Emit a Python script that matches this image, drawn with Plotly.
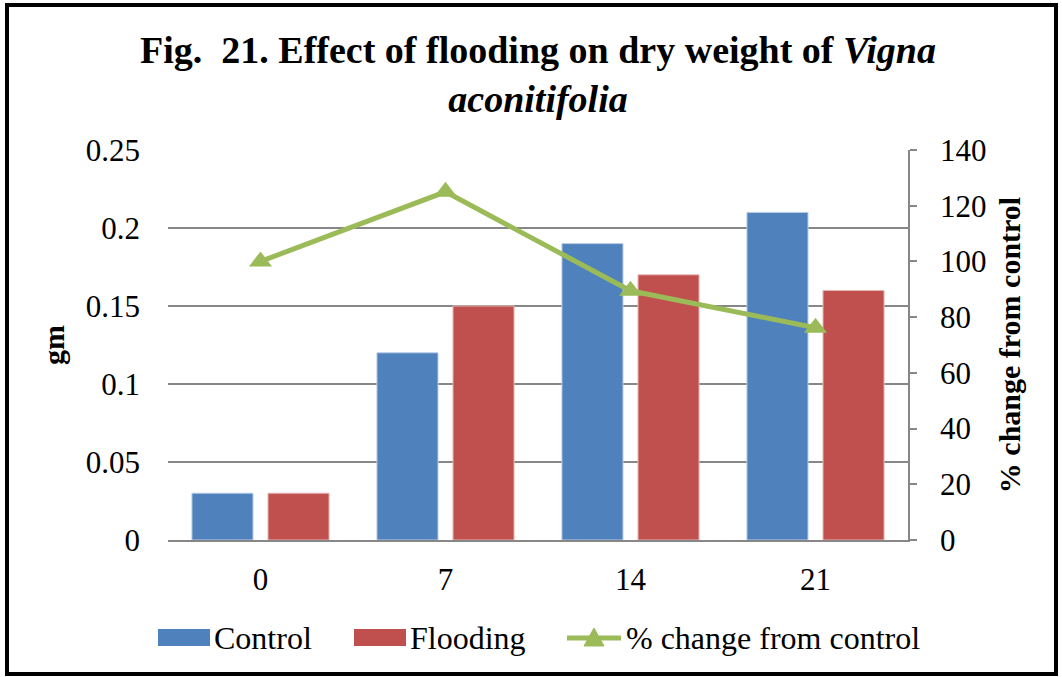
import plotly.graph_objects as go

# Days of flooding and measured dry weight (gm)
days = ["0", "7", "14", "21"]
control = [0.03, 0.12, 0.19, 0.21]
flooding = [0.03, 0.15, 0.17, 0.16]
pct_change = [100, 125, 89.47, 76.19]

left_ticks = [0, 0.05, 0.1, 0.15, 0.2, 0.25]
left_labels = ["0", "0.05", "0.1", "0.15", "0.2", "0.25"]
right_ticks = [0, 20, 40, 60, 80, 100, 120, 140]

BLUE = "#4F81BD"
RED = "#C0504D"
GREEN = "#9BBB59"
GRID = "#878787"
SERIF = "Liberation Serif"

W, H = 1062, 677
ML, MR, MT, MB = 168, 154, 150, 137
PW, PH = W - ML - MR, H - MT - MB


def px(x):
    return (x - ML) / PW


def py(y):
    return (H - MB - y) / PH


fig = go.Figure()
fig.add_trace(go.Bar(x=days, y=control, name="Control", marker_color=BLUE,
                     marker_line=dict(color="#B9CDE5", width=1), showlegend=False))
fig.add_trace(go.Bar(x=days, y=flooding, name="Flooding", marker_color=RED,
                     marker_line=dict(color="#E6B9B8", width=1), showlegend=False))
fig.add_trace(go.Scatter(x=days, y=pct_change, yaxis="y2", name="% change from control",
                         mode="lines+markers",
                         line=dict(color=GREEN, width=5),
                         marker=dict(symbol="triangle-up", size=20, color=GREEN),
                         showlegend=False))

shapes = [
    # outer frame
    dict(type="rect", xref="paper", yref="paper",
         x0=px(7), x1=px(1056), y0=py(674), y1=py(5),
         line=dict(color="black", width=4), fillcolor="rgba(0,0,0,0)"),
    # legend swatches
    dict(type="rect", xref="paper", yref="paper",
         x0=px(158), x1=px(210), y0=py(646), y1=py(629),
         fillcolor=BLUE, line=dict(width=0)),
    dict(type="rect", xref="paper", yref="paper",
         x0=px(354), x1=px(406), y0=py(646), y1=py(629),
         fillcolor=RED, line=dict(width=0)),
    dict(type="line", xref="paper", yref="paper",
         x0=px(567), x1=px(621), y0=py(638), y1=py(638),
         line=dict(color=GREEN, width=5)),
    dict(type="path", xref="paper", yref="paper",
         path=f"M {px(584)},{py(646)} L {px(604)},{py(646)} L {px(594)},{py(628)} Z",
         fillcolor=GREEN, line=dict(color=GREEN, width=1)),
]

legend_font = dict(family=SERIF, size=32, color="black")
annotations = [
    dict(text="Control", x=px(212), y=py(638), xref="paper", yref="paper",
         xanchor="left", yanchor="middle", showarrow=False, font=legend_font),
    dict(text="Flooding", x=px(408), y=py(638), xref="paper", yref="paper",
         xanchor="left", yanchor="middle", showarrow=False, font=legend_font),
    dict(text="% change from control", x=px(624), y=py(638), xref="paper", yref="paper",
         xanchor="left", yanchor="middle", showarrow=False, font=legend_font),
]

fig.update_layout(
    width=W, height=H,
    margin=dict(l=ML, r=MR, t=MT, b=MB),
    paper_bgcolor="white", plot_bgcolor="white",
    barmode="group", bargap=0.178, bargroupgap=0.197,
    showlegend=False,
    title=dict(
        text="<b>Fig.  21. Effect of flooding on dry weight of <i>Vigna</i><br><i>aconitifolia</i></b>",
        x=0.5, xref="paper", xanchor="center",
        y=1 - 63 / H, yanchor="middle",
        font=dict(family=SERIF, size=38, color="black"),
    ),
    xaxis=dict(
        type="category", showgrid=False, ticks="",
        showline=True, linecolor=GRID, linewidth=1.5,
        tickfont=dict(family=SERIF, size=31, color="black"),
        ticklabelstandoff=11,
    ),
    yaxis=dict(
        range=[0, 0.25], tickvals=left_ticks, ticktext=left_labels,
        showgrid=True, gridcolor=GRID, gridwidth=1.5, zeroline=False,
        showline=False, ticks="",
        tickfont=dict(family=SERIF, size=31, color="black"),
        ticklabelstandoff=27,
        title=dict(text="<b>gm</b>", standoff=12,
                   font=dict(family=SERIF, size=30, color="black")),
    ),
    yaxis2=dict(
        range=[0, 140], tickvals=right_ticks, overlaying="y", side="right",
        showgrid=False, zeroline=False,
        showline=True, linecolor=GRID, linewidth=1.5,
        ticks="outside", ticklen=7, tickcolor=GRID, tickwidth=1.5,
        tickfont=dict(family=SERIF, size=31, color="black"),
        ticklabelstandoff=17,
        title=dict(text="<b>% change from control</b>", standoff=14,
                   font=dict(family=SERIF, size=30, color="black")),
    ),
    shapes=shapes,
    annotations=annotations,
)

fig.write_html("out.html")
